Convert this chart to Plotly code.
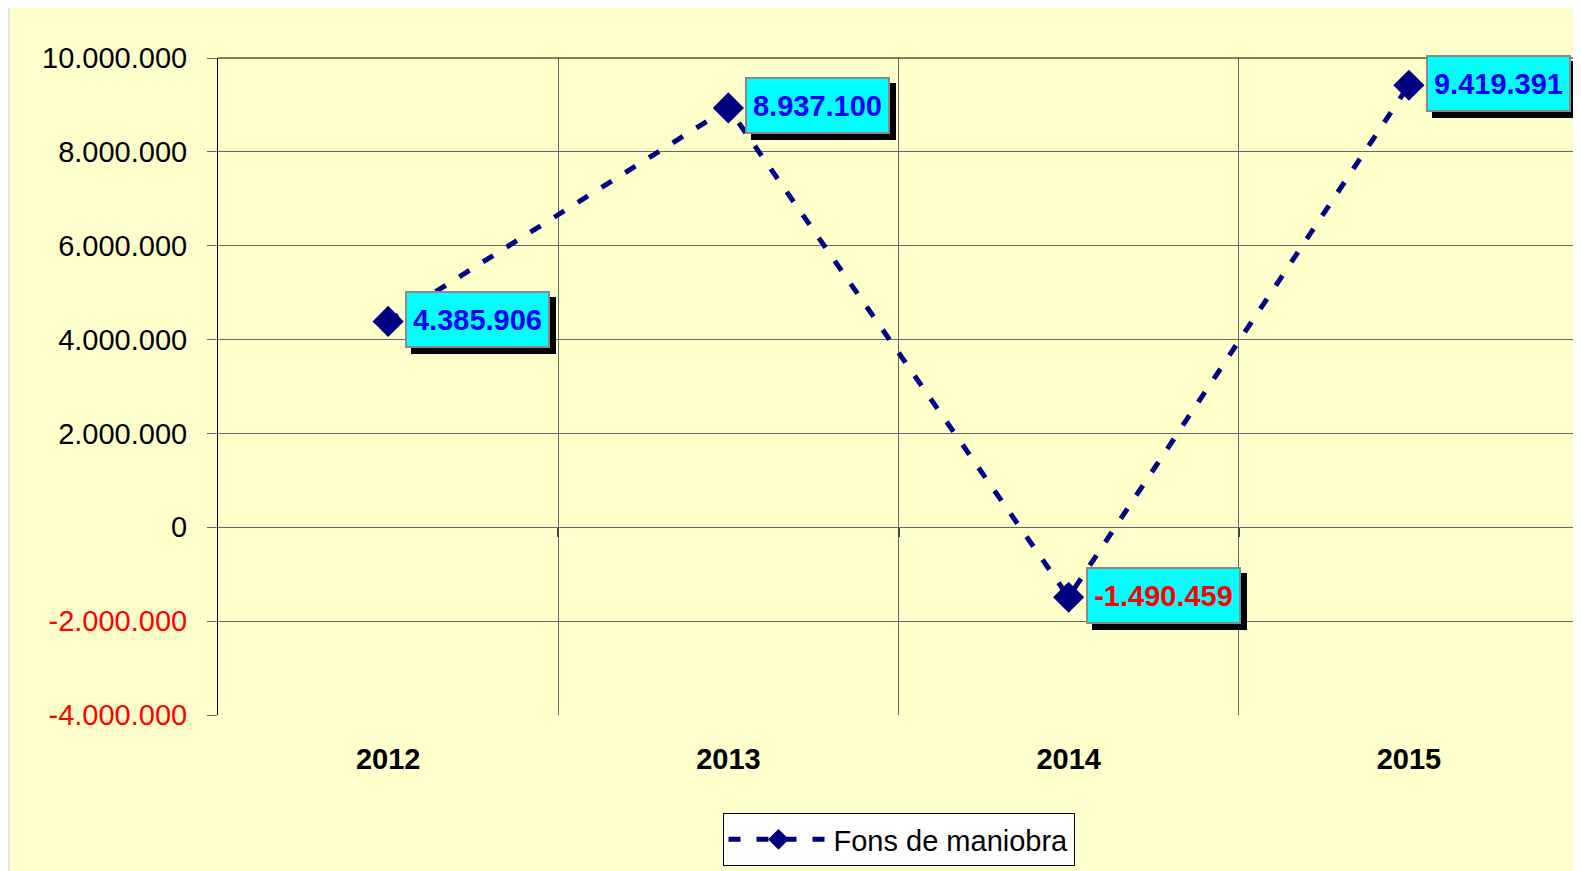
import plotly.graph_objects as go

years = ["2012", "2013", "2014", "2015"]
values = [4385906, 8937100, -1490459, 9419391]
series_name = "Fons de maniobra"
y_ticks = [-4000000, -2000000, 0, 2000000, 4000000, 6000000, 8000000, 10000000]

W, H = 1581, 871
OFF = 8  # page body margin
L, R, T, B = 218 - OFF, 10, 58 - OFF, 164
PW, PH = W - L - R, H - T - B
FONT = "Liberation Sans, Arial, sans-serif"
FS = 29


def fmt(v):
    s = f"{abs(int(v)):,}".replace(",", ".")
    return ("-" if v < 0 else "") + s


def px_x(p):
    return (p - L) / PW


def px_y(p):
    return (H - B - p) / PH


def label_width(s):
    w = 0.0
    for c in s:
        if c.isdigit():
            w += 0.556
        elif c == ".":
            w += 0.278
        else:
            w += 0.333
    return round(w * FS) + 4


xs = list(range(len(years)))
boundaries = [i + 0.5 for i in xs]

fig = go.Figure()
fig.add_trace(go.Scatter(
    x=xs, y=values, name=series_name, mode="lines+markers",
    line=dict(color="#000080", width=5, dash="12px,16px"),
    marker=dict(symbol="diamond", size=24, color="#000080"),
    showlegend=True,
))
# invisible helper so the zero-crossing category axis (ticks only) is drawn
fig.add_trace(go.Scatter(
    x=xs, y=values, xaxis="x2", mode="markers", opacity=0,
    hoverinfo="skip", showlegend=False, marker=dict(size=1),
))

ticktext = []
for v in y_ticks:
    if v < 0:
        ticktext.append(f"<span style='color:#FF0000'>{fmt(v)}</span>")
    else:
        ticktext.append(fmt(v))

annotations = []
BOX_H = 45
for x, v in zip(xs, values):
    col = "#FF0000" if v < 0 else "#0000FF"
    txt = fmt(v)
    bw = label_width(txt)
    # shadow
    annotations.append(dict(
        x=x, y=v, xref="x", yref="y", text=" ", showarrow=False,
        xanchor="left", yanchor="middle", xshift=23, yshift=-4,
        width=bw, height=BOX_H,
        font=dict(family=FONT, size=FS, color="#000000"),
        bgcolor="#000000", bordercolor="#000000", borderwidth=2, borderpad=4,
    ))
    annotations.append(dict(
        x=x, y=v, xref="x", yref="y", text=f"<b>{txt}</b>", showarrow=False,
        xanchor="left", yanchor="middle", xshift=17, yshift=2,
        width=bw, height=BOX_H, align="center",
        font=dict(family=FONT, size=FS, color=col),
        bgcolor="#00FFFF", bordercolor="#8A8A8A", borderwidth=2, borderpad=4,
    ))

shapes = [
    dict(type="rect", xref="paper", yref="paper", layer="below",
         x0=px_x(2), x1=px_x(W + 5), y0=px_y(H + 5), y1=px_y(0),
         fillcolor="#FFFFCC", line=dict(width=0)),
    dict(type="line", xref="paper", yref="paper",
         x0=0, x1=1, y0=1, y1=1, line=dict(color="#000000", width=1)),
]

zero_pos = (0 - y_ticks[0]) / (y_ticks[-1] - y_ticks[0])

fig.update_layout(
    width=W, height=H,
    margin=dict(l=L, r=R, t=T, b=B),
    paper_bgcolor="#E4E4E4",
    plot_bgcolor="rgba(0,0,0,0)",
    font=dict(family=FONT, size=FS, color="#000000"),
    showlegend=True,
    legend=dict(
        x=0.5, xanchor="center", y=px_y(805), yanchor="top",
        bgcolor="#FFFFFF", bordercolor="#000000", borderwidth=1,
        font=dict(family=FONT, size=FS, color="#000000"),
        orientation="h", itemwidth=100,
    ),
    annotations=annotations,
    shapes=shapes,
    xaxis=dict(
        range=[-0.5, len(years) - 0.5],
        tickvals=xs, ticktext=[f"<b>{y}</b>" for y in years],
        showgrid=False, zeroline=False, showline=False, ticks="",
        ticklabelstandoff=24,
        tickfont=dict(family=FONT, size=FS, color="#000000"),
        minor=dict(tickvals=boundaries, showgrid=True,
                   gridcolor="#666666", gridwidth=1, ticks=""),
    ),
    xaxis2=dict(
        overlaying="x", anchor="free", position=zero_pos, side="bottom",
        range=[-0.5, len(years) - 0.5], tickvals=boundaries,
        showticklabels=False, ticks="outside", ticklen=9, tickwidth=2,
        tickcolor="#444444", showgrid=False, zeroline=False, showline=False,
    ),
    yaxis=dict(
        range=[y_ticks[0], y_ticks[-1]],
        tickvals=y_ticks, ticktext=ticktext,
        showgrid=True, gridcolor="#666666", gridwidth=1,
        zeroline=False, showline=True, linecolor="#000000", linewidth=1,
        mirror=True,
        ticks="outside", ticklen=10, tickcolor="#666666",
        ticklabelstandoff=14,
        tickfont=dict(family=FONT, size=FS, color="#000000"),
    ),
)

fig.write_html("out.html")
